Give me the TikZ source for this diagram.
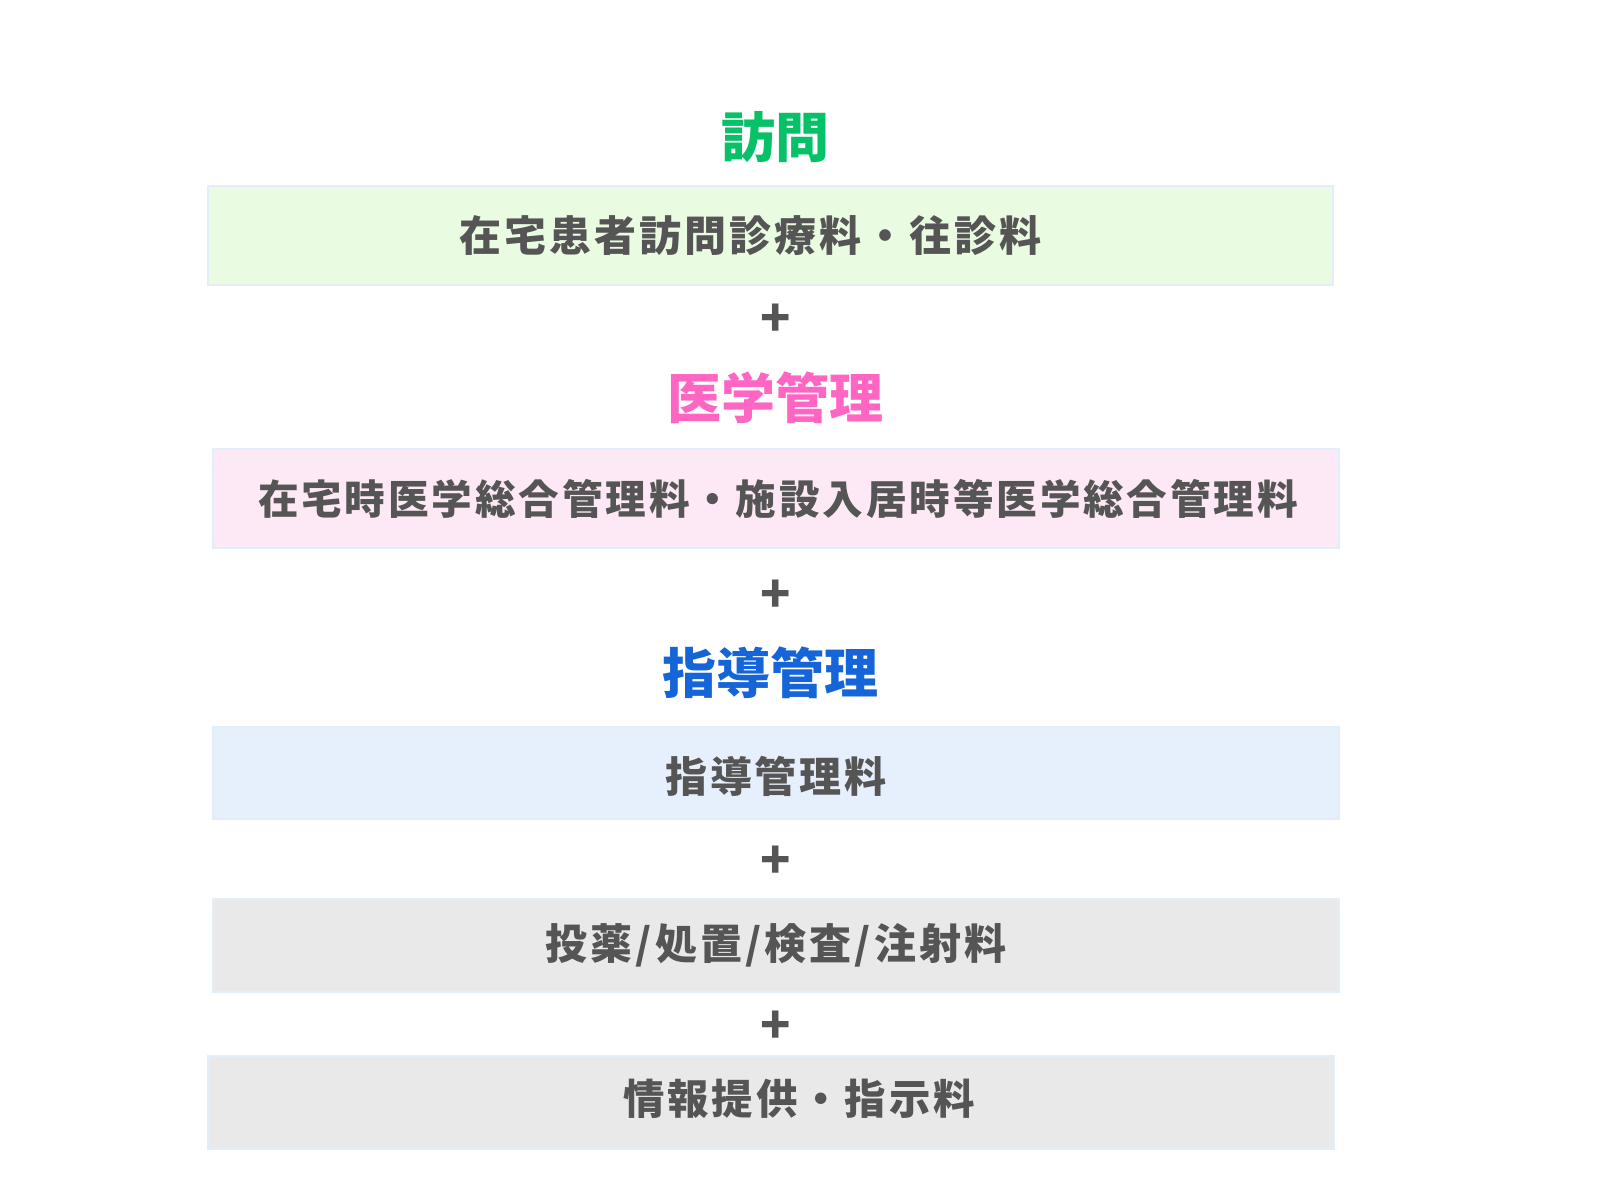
\documentclass[tikz,border=0pt]{standalone}
\usepackage{fontspec}
\newfontfamily\jpfont[LetterSpace=7]{Noto Sans CJK JP}
\newfontfamily\jptitle{Noto Sans CJK JP}
\usetikzlibrary{positioning}
\definecolor{textgray}{HTML}{555555}
\definecolor{boxline}{HTML}{E3EEFB}
\definecolor{visitgreen}{HTML}{06C167}
\definecolor{medpink}{HTML}{FF66C4}
\definecolor{guideblue}{HTML}{1565D8}
\definecolor{fillgreen}{HTML}{E9FBE0}
\definecolor{fillpink}{HTML}{FDE9F6}
\definecolor{fillblue}{HTML}{E6F0FC}
\definecolor{fillgray}{HTML}{E9E9E9}
\newcommand{\slsh}{\kern1.6pt/\kern1.6pt}
\tikzset{
    feebox/.style={draw=boxline, line width=1pt, inner sep=0pt, minimum width=563pt, minimum height=#1},
    feebox/.default={49.5pt},
    feetext/.style={text=textgray, inner sep=0pt, font=\jpfont\bfseries\fontsize{21pt}{21pt}\selectfont},
    headline/.style={inner sep=0pt, font=\jptitle\bfseries\fontsize{27pt}{27pt}\selectfont},
    plussign/.style={text=textgray, inner sep=0pt, font=\jptitle\bfseries\fontsize{25pt}{25pt}\selectfont}
}

\begin{document}
\begin{tikzpicture}[x=0.5pt, y=-0.5pt]
    \useasboundingbox[fill=white] (0,0) rectangle (1600,1200);
    \coordinate (c1) at (770.5, 235.5);
    \coordinate (c2) at (776, 498.5);
    \coordinate (c3) at (776, 773);
    \coordinate (c4) at (776, 945.5);
    \coordinate (c5) at (771, 1102.5);
    % headings
    \node[headline, text=visitgreen] (h1) at (775, 137) {訪問};
    \node[headline, text=medpink] (h2) at (775, 398) {医学管理};
    \node[headline, text=guideblue] (h3) at (770, 673) {指導管理};
    % fee boxes
    \node[feebox, fill=fillgreen, minimum width=562.5pt] (b1) at (c1) {};
    \node[feebox, fill=fillpink] (b2) at (c2) {};
    \node[feebox=46pt, fill=fillblue] (b3) at (c3) {};
    \node[feebox=46.5pt, fill=fillgray] (b4) at (c4) {};
    \node[feebox=46.5pt, fill=fillgray] (b5) at (c5) {};
    \node[feetext] (t1) at ([xshift=-10pt]b1.center) {在宅患者訪問診療料・往診料};
    \node[feetext, font=\jpfont\bfseries\fontsize{20.3pt}{20.3pt}\selectfont] (t2) at ([xshift=1pt]b2.center) {在宅時医学総合管理料・施設入居時等医学総合管理料};
    \node[feetext] (t3) at ([yshift=-1.5pt]b3.center) {指導管理料};
    \node[feetext] (t4) at (b4.center) {投薬\slsh 処置\slsh 検査\slsh 注射料};
    \node[feetext, font=\jpfont\bfseries\fontsize{20.7pt}{20.7pt}\selectfont] (t5) at ([xshift=14pt, yshift=2pt]b5.center) {情報提供・指示料};
    % plus signs
    \node[plussign] (p1) at (776, 320) {+};
    \node[plussign] (p2) at (776, 596) {+};
    \node[plussign] (p3) at (776, 862) {+};
    \node[plussign] (p4) at (776, 1027) {+};
\end{tikzpicture}
\end{document}
